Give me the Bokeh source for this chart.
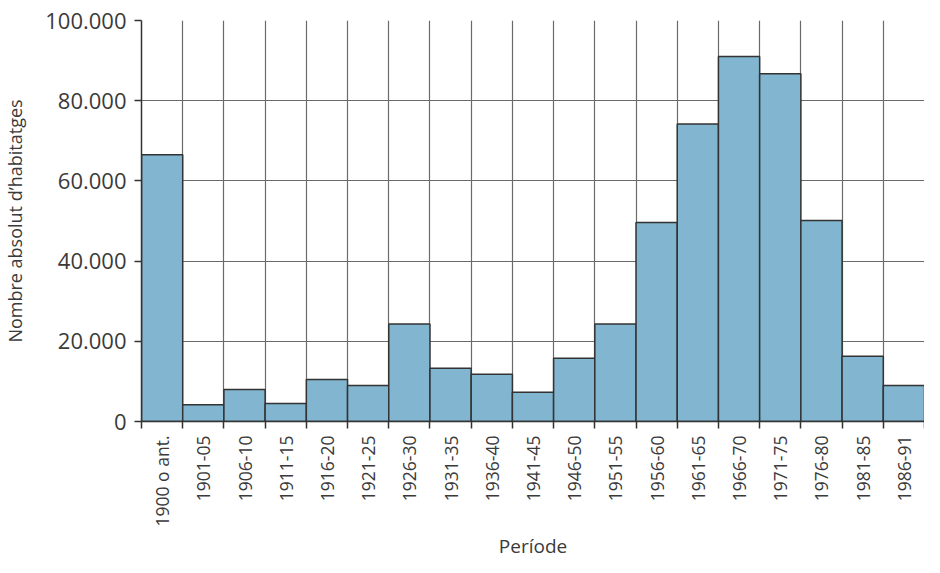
import math
from bokeh.plotting import figure
from bokeh.models import FixedTicker, Range1d, ColumnDataSource
from bokeh.embed import file_html
from bokeh.resources import INLINE

categories = ["1900 o ant.", "1901-05", "1906-10", "1911-15", "1916-20", "1921-25",
              "1926-30", "1931-35", "1936-40", "1941-45", "1946-50", "1951-55",
              "1956-60", "1961-65", "1966-70", "1971-75", "1976-80", "1981-85", "1986-91"]
values = [66500, 4200, 8000, 4500, 10500, 9000, 24300, 13300, 11800, 7300, 15800,
          24300, 49600, 74200, 91000, 86700, 50100, 16300, 9000]
y_ticks = [0, 20000, 40000, 60000, 80000, 100000]
y_tick_labels = ["0", "20.000", "40.000", "60.000", "80.000", "100.000"]

n = len(categories)
idx = list(range(n))
bounds = [i - 0.5 for i in range(n + 1)]

src = ColumnDataSource(dict(x=idx, top=values, cat=categories))

FONT = "Open Sans"
TXT = "#3a3a3a"

p = figure(width=924, height=562, output_backend="svg", toolbar_location=None,
           x_range=Range1d(-0.5, n - 0.5), y_range=Range1d(0, 100000),
           min_border_left=137, min_border_right=0, min_border_top=20,
           min_border_bottom=10)
p.outline_line_color = None
p.background_fill_color = "white"

p.vbar(x="x", top="top", bottom=0, width=1.0, source=src,
       fill_color="#82B5CF", line_color="#333333", line_width=1.5)

# grids
p.xgrid.ticker = FixedTicker(ticks=bounds)
p.ygrid.ticker = FixedTicker(ticks=y_ticks)
for g in (p.xgrid, p.ygrid):
    g.grid_line_color = "#6a6a6a"
    g.grid_line_width = 1.2

# x axis
xa = p.xaxis[0]
xa.ticker = FixedTicker(ticks=idx, minor_ticks=bounds)
xa.major_label_overrides = {i: c for i, c in zip(idx, categories)}
xa.major_label_orientation = math.pi / 2
xa.major_tick_out = 0
xa.major_tick_in = 0
xa.minor_tick_out = 7
xa.minor_tick_in = 0
xa.minor_tick_line_color = "#333333"
xa.minor_tick_line_width = 1.5
xa.axis_line_color = "#333333"
xa.axis_line_width = 1.5
xa.major_label_standoff = 7
xa.major_label_text_font = FONT
xa.major_label_text_font_size = "17.5px"
xa.major_label_text_color = TXT
xa.axis_label = "Període"
xa.axis_label_text_font = FONT
xa.axis_label_text_font_size = "19px"
xa.axis_label_text_font_style = "normal"
xa.axis_label_text_color = TXT
xa.axis_label_standoff = 4

# y axis
ya = p.yaxis[0]
ya.ticker = FixedTicker(ticks=y_ticks)
ya.major_label_overrides = {t: l for t, l in zip(y_ticks, y_tick_labels)}
ya.major_tick_out = 7
ya.major_tick_in = 0
ya.minor_tick_out = 0
ya.minor_tick_in = 0
ya.major_tick_line_color = "#333333"
ya.major_tick_line_width = 1.5
ya.axis_line_color = "#333333"
ya.axis_line_width = 1.5
ya.major_label_standoff = 8
ya.major_label_text_font = FONT
ya.major_label_text_font_size = "22px"
ya.major_label_text_color = TXT
ya.axis_label = "Nombre absolut d’habitatges"
ya.axis_label_text_font = FONT
ya.axis_label_text_font_size = "18px"
ya.axis_label_text_font_style = "normal"
ya.axis_label_text_color = TXT
ya.axis_label_standoff = 15

open("out.html", "w").write(file_html(p, INLINE))
